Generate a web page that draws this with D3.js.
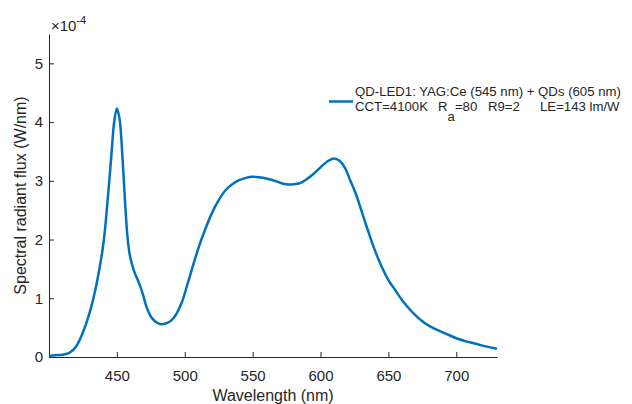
<!DOCTYPE html>
<html>
<head>
<meta charset="utf-8">
<script src="https://cdn.jsdelivr.net/npm/d3@7"></script>
<style>
  body { margin: 0; background: #fff; }
  text { font-family: "Liberation Sans", Arial, sans-serif; fill: #262626; }
</style>
</head>
<body>
<div id="chart"></div>
<script>
// Spectrum of QD-LED1, values in units of 1e-4 W/nm
const wavelengths = [400, 405, 410, 415, 420, 425, 430, 435, 440, 443, 446, 448, 450, 452, 454, 456, 458, 460,
  463, 466, 469, 472, 475, 478, 482, 486, 490, 494, 498, 502, 506, 510, 515, 520, 525, 530, 535, 540,
  545, 550, 555, 560, 565, 570, 575, 580, 585, 590, 595, 600, 605, 610, 614, 618, 622, 626, 630, 635,
  640, 645, 650, 655, 660, 665, 670, 675, 680, 685, 690, 695, 700, 710, 720, 730];
const flux = [0.02, 0.03, 0.04, 0.07, 0.18, 0.42, 0.76, 1.24, 1.92, 2.62, 3.45, 4.0, 4.23, 4.05, 3.45, 2.65, 2.0, 1.68,
  1.44, 1.28, 1.08, 0.84, 0.69, 0.61, 0.56, 0.57, 0.62, 0.74, 0.94, 1.24, 1.55, 1.85, 2.17, 2.45, 2.67, 2.84, 2.94, 3.01,
  3.05, 3.07, 3.06, 3.04, 3.01, 2.97, 2.94, 2.94, 2.96, 3.03, 3.12, 3.23, 3.33, 3.38, 3.34, 3.22, 3.0, 2.78, 2.5, 2.15,
  1.82, 1.54, 1.31, 1.14, 0.97, 0.83, 0.71, 0.61, 0.53, 0.47, 0.42, 0.37, 0.32, 0.25, 0.19, 0.14];
const xTicks = [450, 500, 550, 600, 650, 700];
const yTicks = [0, 1, 2, 3, 4, 5];

const width = 632, height = 404;
const margin = { left: 49, right: 135, top: 34, bottom: 47 };

const svg = d3.select('#chart').append('svg')
  .attr('width', width)
  .attr('height', height);

const x = d3.scaleLinear().domain([400, 730]).range([margin.left, width - margin.right]);
const y = d3.scaleLinear().domain([0, 5.5]).range([height - margin.bottom, margin.top]);

// x axis, ticks pointing inward (MATLAB style)
const xAxis = svg.append('g')
  .attr('transform', `translate(0,${y(0)})`)
  .call(d3.axisBottom(x).tickValues(xTicks).tickFormat(d3.format('d'))
    .tickSizeInner(-5).tickSizeOuter(0).tickPadding(13));
// y axis
const yAxis = svg.append('g')
  .attr('transform', `translate(${x(400)},0)`)
  .call(d3.axisLeft(y).tickValues(yTicks).tickFormat(d3.format('d'))
    .tickSizeInner(-5).tickSizeOuter(0).tickPadding(6));

[xAxis, yAxis].forEach(a => {
  a.select('.domain').attr('stroke', '#262626').attr('stroke-width', 1);
  a.selectAll('.tick line').attr('stroke', '#262626');
  a.selectAll('.tick text')
    .style('font-family', '"Liberation Sans", Arial, sans-serif')
    .style('font-size', '15px')
    .attr('fill', '#262626');
});

// exponent label
const expo = svg.append('text')
  .attr('x', 51)
  .attr('y', 31)
  .style('font-size', '15px');
expo.append('tspan').text('\u00d710');
expo.append('tspan').attr('dy', -7).style('font-size', '11px').text('-4');

// axis titles
svg.append('text')
  .attr('x', (x(400) + x(730)) / 2)
  .attr('y', 401)
  .attr('text-anchor', 'middle')
  .style('font-size', '16px')
  .text('Wavelength (nm)');

svg.append('text')
  .attr('transform', `translate(26,${(y(0) + y(5.5)) / 2}) rotate(-90)`)
  .attr('text-anchor', 'middle')
  .style('font-size', '16px')
  .text('Spectral radiant flux (W/nm)');

// spectrum line
const line = d3.line()
  .x((d, i) => x(wavelengths[i]))
  .y(d => y(d))
  .curve(d3.curveCatmullRom.alpha(0.5));

svg.append('path')
  .datum(flux)
  .attr('d', line)
  .attr('fill', 'none')
  .attr('stroke', '#0072BD')
  .attr('stroke-width', 2.5)
  .attr('stroke-linejoin', 'round');

// legend
const lg = svg.append('g').attr('transform', 'translate(329,0)');
lg.append('line')
  .attr('x1', 0).attr('x2', 24)
  .attr('y1', 101.5).attr('y2', 101.5)
  .attr('stroke', '#0072BD')
  .attr('stroke-width', 2.5);
lg.append('text')
  .attr('x', 26).attr('y', 96)
  .style('font-size', '13.2px')
  .text('QD-LED1: YAG:Ce (545 nm) + QDs (605 nm)');
const l2 = lg.append('text')
  .attr('y', 111)
  .style('font-size', '13.2px');
l2.append('tspan').attr('x', 26).text('CCT=4100K');
l2.append('tspan').attr('x', 109).text('R');
l2.append('tspan').attr('dy', 10).text('a');
l2.append('tspan').attr('dy', -10).text('=80');
l2.append('tspan').attr('x', 159).text('R9=2');
l2.append('tspan').attr('x', 211).text('LE=143 lm/W');
</script>
</body>
</html>
